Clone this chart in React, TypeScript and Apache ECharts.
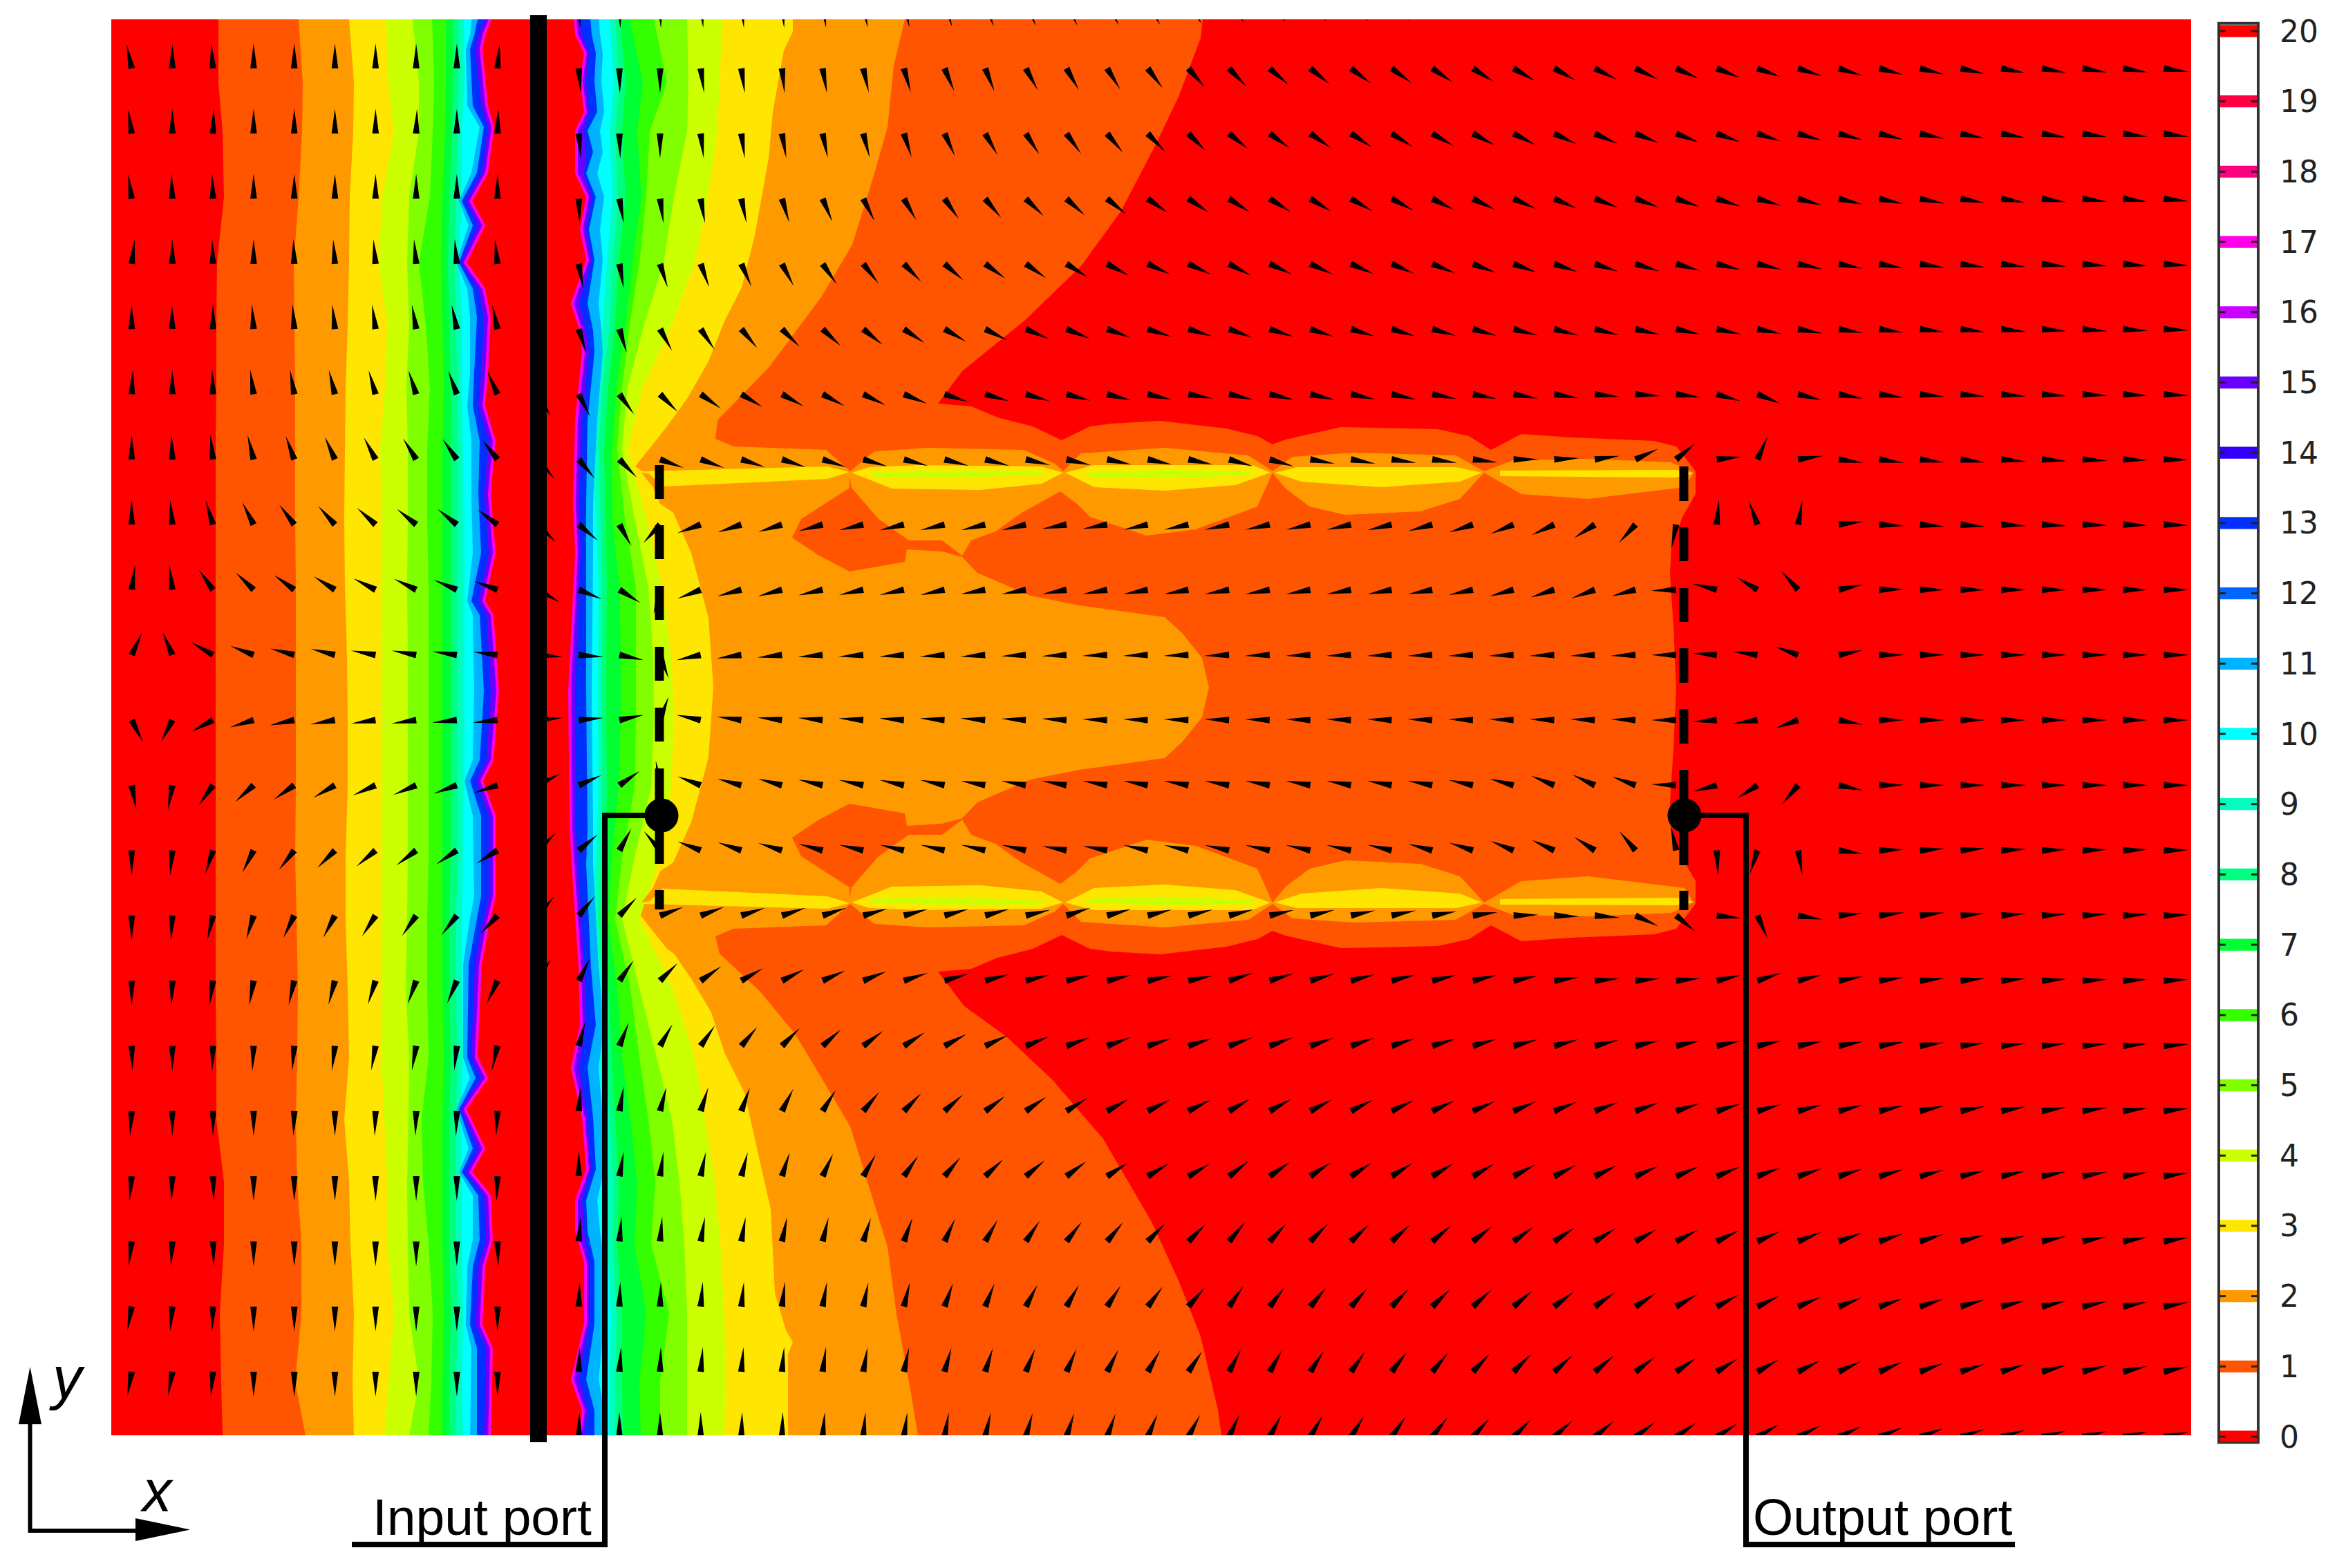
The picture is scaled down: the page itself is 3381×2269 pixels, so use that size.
import React, { useEffect, useRef } from "react";
import * as echarts from "echarts";

// ---------- level colours ----------
const LEVEL_COLORS = ["#ff0000","#ff5500","#ff9900","#ffe600","#ccff00","#80ff00","#33ff00","#00ff33","#00ff80","#00ffbf","#00ffff","#00b3ff","#0066ff","#0030ff","#3300ff","#6a00ff","#cc00ff","#ff00e6","#ff0080","#ff0040","#ff0000"];
const LEGEND_LEVELS = [0,1,2,3,4,5,6,7,8,9,10,11,12,13,14,15,16,17,18,19,20];

// ---------- contour sampling heights ----------
const YC = [28,120,190,285,380,470,560,650,750,850,950,1040,1140,1240,1330,1430,1530,1620,1710,1800,1900,2000,2077];
const YWL = [15,51,71,153,184,250,291,326,380,418,459,540,587,638,714,800,870,890,1000,1100,1130,1180,1297,1340,1396,1530,1560,1605,1662,1696,1730,1794,1833,1917,1951,2090];
const YWR = [15,50,77,117,162,189,220,251,285,332,376,439,479,510,608,728,800,1000,1200,1250,1400,1483,1545,1617,1692,1737,1782,1826,1916,1996,2041,2090];

// ---------- left of the wall: x where each level starts ----------
const L1 = [316,316,322,324,314,313,313,312,312,312,312,312,312,312,312,312,313,313,324,324,318,320,322];
const L2 = [432,438,437,432,425,426,427,427,427,428,428,428,428,427,429,431,430,428,430,436,436,427,442];
const L3 = [505,512,511,506,505,503,500,499,498,499,502,503,503,500,500,503,505,498,505,507,512,510,512];
const L4 = [558,562,570,553,548,560,557,550,552,552,553,553,553,553,553,553,552,556,560,560,570,562,556];
const L5 = [597,606,606,592,589,592,588,590,590,589,590,590,590,590,589,587,592,591,589,590,592,606,592];
const L6 = [625,628,626,622,606,616,622,618,618,620,620,620,620,620,618,618,620,610,612,620,626,624,620];
const L7 = [645,645,644,640,638,640,642,640,640,640,640,640,640,640,640,640,642,640,640,640,642,640,640];
const L8 = [655,655,654,650,648,650,652,652,652,652,652,652,652,652,650,650,652,650,650,650,652,650,650];
const L9 = [664,664,662,660,658,660,662,662,662,662,662,662,662,662,660,660,662,660,660,660,662,660,660];
const L10 = [671,672,668,668,664,668,668,670,672,672,672,672,672,670,668,668,670,666,668,668,670,668,670];
const L11 = [684,680,674,676,694,682,664,678,660,676,680,680,676,682,682,684,676,684,686,684,672,684,686,678,670,670,680,660,678,664,684,684,676,674,682,680];
const L13 = [694,686,680,684,700,690,668,684,664,684,690,686,684,694,692,696,682,694,700,694,680,696,696,688,678,676,688,664,684,668,692,694,684,680,690,690];
const L15 = [707,692,688,696,706,697,674,692,667,692,700,696,692,707,700,707,692,704,710,704,689,707,707,697,687,682,696,666,692,674,700,703,692,688,703,700];
const LEDGE = [714,700,696,704,713,704,681,700,673,700,708,704,700,715,708,715,700,712,720,712,697,715,715,705,695,689,704,673,700,681,708,711,700,696,711,708];

// ---------- right of the wall: x where each level ends ----------
const R4 = [1045,1041,1038,1024,1005,972,930,908,935,958,971,975,971,955,925,973,1005,1020,1034,1042,1048,1050,1048];
const R5 = [994,996,994,975,960,932,908,900,918,938,945,946,942,918,900,925,950,972,983,990,994,994,994];
const R6 = [946,965,940,935,925,911,900,893,904,920,920,920,918,900,890,912,925,938,948,942,968,955,955];
const R7 = [911,930,922,928,915,905,892,885,886,896,898,898,895,885,880,893,900,912,922,918,935,925,927];
const R8 = [897,905,900,905,895,890,880,874,876,878,877,877,878,876,872,880,885,890,896,893,900,900,901];
const R9 = [890,896,890,894,887,882,872,866,869,871,870,870,871,869,865,873,877,882,887,886,892,890,890];
const R10 = [882,888,882,886,878,872,864,858,862,866,865,865,866,862,857,864,868,874,878,878,884,882,881];
const R11 = [866,868,872,870,874,868,872,864,874,868,872,866,870,872,864,858,858,856,858,858,866,874,866,872,874,864,868,874,874,866,874,872];
const R13 = [853,856,862,860,864,850,858,848,862,852,860,850,858,860,850,848,848,848,850,848,855,862,850,858,862,848,850,860,860,848,860,860];
const R15 = [838,842,852,848,852,845,848,845,856,848,856,838,848,852,842,838,840,832,833,836,846,848,838,850,855,842,845,852,852,838,850,845];
const REDGE = [831,834,847,841,847,834,834,834,850,841,850,828,841,844,834,831,834,824,826,829,839,841,828,844,850,834,834,847,847,828,844,837];

// ---------- free-form contours (upper half of a top/bottom symmetric field) ----------
const MIRROR_SUM = 1990;
const LEV1_TOP = [[791,28],[1740,28],[1737,55],[1705,140],[1673,207],[1622,305],[1564,385],[1481,465],[1392,537]];
const LEV1_CHAIN = [[1357,584],[1405,588],[1443,604],[1494,617],[1536,637],[1577,617],[1608,613],[1678,609],[1774,620],[1819,631],[1841,643],[1860,636],[1940,618],[2080,621],[2125,631],[2157,651],[2201,628],[2272,633],[2393,638],[2425,646],[2453,682],[2453,715],[2434,748],[2418,794],[2416,830],[2421,906],[2425,995]];
const LEV1_BOTTOM = [[1395,1456],[1456,1500],[1523,1563],[1596,1648],[1666,1768],[1705,1853],[1737,1934],[1762,2040],[1767,2077],[791,2077]];
const LEV2_TOP = [[791,28],[1309,28],[1293,95],[1284,184],[1265,251],[1233,354],[1188,430],[1112,532],[1038,608]];
const LEV2_CHAIN = [[1035,635],[1061,646],[1195,651],[1230,682],[1265,653],[1341,648],[1481,651],[1526,671],[1538,682],[1564,656],[1685,648],[1806,659],[1841,682],[1870,661],[1959,655],[2106,659],[2147,682],[2189,666],[2297,664],[2418,669],[2450,684],[2437,705],[2297,722],[2201,715],[2147,684],[2112,722],[2055,740],[1946,745],[1895,733],[1860,707],[1841,684],[1819,733],[1730,766],[1659,775],[1577,748],[1558,729],[1534,711],[1478,742],[1440,769],[1405,782],[1392,804],[1363,782],[1315,782],[1271,751],[1232,706],[1229,690],[1229,706],[1159,751],[1146,778],[1185,804],[1229,827],[1309,813],[1312,795],[1363,798],[1392,806],[1414,829],[1491,862],[1561,876],[1685,893],[1710,916],[1739,952],[1749,995]];
const LEV2_BOTTOM = [[1041,1380],[1099,1434],[1150,1496],[1188,1559],[1230,1630],[1255,1710],[1284,1804],[1297,1902],[1316,2005],[1328,2077],[791,2077]];
const LEV3_TOP = [[791,28],[1147,28],[1147,46],[1134,73],[1118,162],[1112,229],[1092,340],[1073,416],[1048,465],[1025,523],[994,577]];
const LEV3_CHAIN = [[965,617],[919,675],[930,682],[1197,675],[1229,683],[1197,693],[961,704],[945,706],[955,729],[974,742],[1000,800],[1025,894],[1032,995]];
const LEV3_BOTTOM = [[975,1380],[1000,1416],[1029,1465],[1048,1523],[1077,1581],[1092,1648],[1115,1750],[1121,1871],[1137,1925],[1147,1942],[1140,1960],[1140,2077],[791,2077]];
const LENS3_A = [[1232,684],[1258,676],[1330,673],[1507,675],[1538,684],[1507,700],[1418,709],[1290,707],[1255,693]];
const LENS3_B = [[1541,684],[1583,673],[1812,673],[1838,684],[1787,702],[1685,710],[1583,705]];
const LENS3_C = [[1844,684],[1876,676],[2106,676],[2144,684],[2112,697],[1997,705],[1883,697]];
const LENS3_D = [[2170,681],[2425,680],[2450,685],[2425,691],[2170,689]];
const LENS4_A = [[1258,684],[1350,681],[1500,681],[1515,686],[1400,691],[1265,690]];
const LENS4_B = [[1570,683],[1690,680],[1810,682],[1812,688],[1690,692],[1580,690]];
const SLIVER2 = [[928,684],[950,712],[960,706],[940,686]];

// ---------- field wedges: base position grid ----------
const GRID_X = [190.5,249.3,308.1,366.9,425.7,484.5,543.3,602.1,660.9,719.7,778.5,837.3,896.1,954.9,1013.7,1072.5,1131.3,1190.1,1248.9,1307.7,1366.5,1425.3,1484.1,1542.9,1601.7,1660.5,1719.3,1778.1,1836.9,1895.7,1954.5,2013.3,2072.1,2130.9,2189.7,2248.5,2307.3,2366.1,2424.9,2483.7,2542.5,2601.3,2660.1,2718.9,2777.7,2836.5,2895.3,2954.1,3012.9,3071.7,3130.5];
const GRID_Y = [4.7,99,193.3,287.6,381.9,476.2,570.5,664.8,759.1,853.4,947.7,1042,1136.3,1230.6,1324.9,1419.2,1513.5,1607.8,1702.1,1796.4,1890.7,1985,2079.3];
// direction of each wedge, base to tip, in degrees (0 = right, 90 = up)
const ANGLE_ROWS = [
[90,90,90,90,90,90,90,90,90,90,-88,-87,-88,-88,-84,-84,-85,-82,-80,-77,-72,-70,-66,-64,-62,-60,-57,-52,-50,-48,-46,-44,-42,-40,-38,-36,-34,-32,-30,-28,-26,-24,-22,-20,-18,-16,-14,-13,-12,-11,-10],
[102,90,94,90,90,90,90,90,90,85,-85,-85,-89,-90,-82,-82,-84,-80,-77,-74,-67,-68,-61,-60,-58,-53,-49,-46,-41,-39,-37,-36,-34,-33,-30,-29,-27,-26,-24,-22,-20,-18,-17,-15,-14,-13,-11,-10,-9,-9,-8],
[98,90,88,90,90,90,90,88,90,88,-85,-85,-88,-90,-83,-82,-80,-78,-75,-72,-65,-60,-57,-54,-50,-46,-45,-39,-36,-35,-33,-32,-30,-28,-27,-25,-24,-22,-21,-20,-18,-16,-15,-14,-12,-11,-10,-9,-8,-7,-7],
[98,92,92,90,90,90,90,90,90,90,-82,-88,-80,-82,-80,-78,-73,-67,-63,-60,-55,-50,-44,-42,-39,-35,-34,-33,-32,-31,-30,-28,-27,-26,-24,-23,-21,-20,-19,-18,-16,-15,-13,-12,-11,-10,-9,-8,-7,-7,-6],
[83,90,92,90,92,94,95,95,95,96,-75,-80,-80,-72,-70,-66,-62,-55,-52,-46,-41,-36,-35,-32,-28,-25,-25,-28,-25,-25,-24,-23,-22,-21,-20,-19,-18,-17,-16,-14,-13,-12,-11,-10,-9,-8,-7,-6,-5,-5,-4],
[90,91,90,94,94,96,98,100,102,102,-70,-73,-73,-61,-56,-50,-45,-43,-39,-34,-30,-27,-23,-22,-20,-18,-17,-20,-18,-18,-17,-17,-16,-16,-15,-15,-14,-13,-12,-12,-11,-10,-9,-8,-7,-7,-6,-5,-5,-4,-3],
[87,90,92,98,100,104,106,108,110,114,-60,-63,-54,-45,-35,-31,-29,-28,-26,-22,-18,-16,-16,-15,-14,-13,-10,-13,-13,-13,-12,-12,-11,-11,-10,-9,-6,-4,-7,-16,-22,-14,-10,-8,-6,-5,-5,-4,-3,-3,-3],
[90,92,96,104,110,114,118,122,125,128,-50,-50,-46,-20,-20,-18,-18,-18,-16,-15,-15,-15,-13,-13,-12,-12,-12,-16,-16,-10,-10,-8,-8,-7,0,3,8,25,40,6,66,8,-8,-8,-7,-7,-5,-4,-3,-2,-1],
[90,95,107,117,127,132,138,141,141,143,-45,-40,-61,-132,-160,-162,-163,-165,-167,-167,-167,-167,-167,-170,-170,-168,-168,-168,-168,-168,-168,-167,-165,-162,-158,-155,-147,-132,-101,85,110,80,7,-3,-5,-5,-3,-3,-2,-2,-2],
[82,97,125,136,144,148,153,154,157,160,-30,-22,-32,-105,-159,-165,-165,-167,-168,-168,-168,-170,-170,-170,-170,-170,-170,-170,-170,-170,-170,-170,-170,-168,-165,-162,-160,-165,-178,166,149,132,12,1,0,0,0,0,0,0,0],
[65,113,150,159,165,166,170,170,172,173,-5,-5,-12,-70,-168,-172,-174,-175,-176,-176,-176,-176,-177,-177,-178,-178,-178,-178,-178,-178,-178,-178,-178,-178,-178,-178,-178,-178,180,176,172,160,11,0,0,0,0,0,0,0,0],
[-63,-117,-152,-163,-168,-170,-172,-172,-174,-174,5,5,12,70,168,172,174,175,176,176,176,176,177,177,178,178,178,178,178,178,178,178,178,178,178,178,178,178,180,-176,-172,-160,-11,0,0,0,0,0,0,0,0],
[-79,-100,-125,-138,-145,-150,-156,-157,-160,-162,28,24,35,100,159,165,165,167,168,168,168,170,170,170,170,170,170,170,170,170,170,170,170,168,165,158,155,160,178,-165,-147,-130,-12,1,0,0,0,0,0,0,0],
[-90,-95,-108,-117,-128,-135,-140,-143,-146,-148,45,40,61,130,159,161,163,165,167,167,167,167,167,170,170,168,168,168,168,168,168,167,165,162,158,155,147,130,102,-87,-108,-80,-8,2,4,5,3,2,2,2,1],
[-90,-93,-103,-107,-116,-118,-123,-125,-128,-133,50,50,46,20,20,18,18,18,16,15,15,15,13,18,15,14,14,14,13,13,12,12,10,8,2,-2,-5,-25,-40,-6,-66,-9,6,7,7,6,5,4,4,3,2],
[-90,-92,-98,-100,-103,-105,-108,-110,-113,-115,60,63,55,45,35,30,27,24,22,18,16,15,14,13,13,12,12,18,17,16,15,14,13,13,12,8,5,5,6,13,18,14,10,8,6,6,5,4,3,3,3],
[-88,-90,-92,-93,-95,-97,-100,-100,-96,-103,72,75,68,60,55,50,45,42,37,33,28,25,22,20,20,18,18,20,20,19,19,18,17,16,15,15,14,13,12,12,12,11,10,9,8,7,6,6,5,5,4],
[-94,-90,-90,-90,-92,-90,-92,-92,-92,-93,80,85,80,75,72,70,63,58,50,46,42,37,35,32,29,27,27,30,29,28,27,26,25,24,23,22,21,20,18,17,16,15,14,13,12,11,10,9,8,7,6],
[-95,-92,-88,-90,-90,-90,-90,-90,-90,-92,85,90,80,82,78,75,72,65,60,55,50,43,40,37,33,31,30,38,35,34,33,32,31,30,28,27,26,24,23,22,20,18,17,16,15,13,12,11,10,9,8],
[-97,-93,-88,-90,-90,-90,-90,-90,-90,-88,85,85,85,85,80,80,78,76,72,70,65,60,56,52,50,46,45,50,47,45,43,42,40,38,36,34,32,30,28,26,24,22,20,18,17,15,13,12,11,10,9],
[-100,-95,-92,-90,-90,-90,-90,-90,-90,-90,88,88,88,88,85,84,83,80,78,76,70,68,62,60,57,53,49,55,52,50,48,46,44,42,40,37,35,33,30,28,26,23,21,19,18,16,14,13,12,11,10],
[-100,-100,-95,-90,-90,-90,-90,-90,-90,-90,88,88,86,88,85,85,85,82,80,78,74,72,68,66,63,60,56,62,60,57,55,52,50,47,45,42,40,37,34,32,30,27,25,23,20,18,17,15,14,13,12],
[-90,-90,-90,-90,-90,-90,-90,-90,-90,-90,90,88,90,90,90,88,88,85,85,82,80,77,74,72,70,67,62,65,62,60,58,55,52,48,45,42,40,37,35,33,30,27,25,22,20,18,16,14,13,12,11],
];

// ---------- structure ----------
const WALL = [767,791,22,2087];
const PORT_X_IN = 954;
const PORT_X_OUT = 2436;
const DASHES_IN = [[673,722],[760,809],[848,897],[936,985],[1024,1073],[1112,1250],[1288,1316]];
const DASHES_OUT = [[675,725],[763,812],[851,900],[938,988],[1026,1076],[1114,1252],[1289,1317]];
const PORTS = [[957,1180],[2437,1180]];
const CALLOUTS = [[[957,1180],[875,1180],[875,2235],[509,2235]],[[2437,1180],[2526,1180],[2526,2235],[2915,2235]]];

const mirror = (pts: number[][]) => pts.map(([x, y]) => [x, MIRROR_SUM - y]).reverse();
const rightRing = (xs: number[], ys: number[]) => [[780, ys[0]], ...xs.map((x, i) => [x, ys[i]]), [780, ys[ys.length - 1]]];
const leftRing = (xs: number[], ys: number[]) => [...xs.map((x, i) => [x, ys[i]]), [780, ys[ys.length - 1]], [780, ys[0]]];

type Ring = { pts: number[][]; level: number; edge?: boolean };
const RINGS: Ring[] = [
  { pts: [...LEV1_TOP, ...LEV1_CHAIN, ...mirror(LEV1_CHAIN), ...LEV1_BOTTOM], level: 1 },
  { pts: [...LEV2_TOP, ...LEV2_CHAIN, ...mirror(LEV2_CHAIN), ...LEV2_BOTTOM], level: 2 },
  { pts: [...LEV3_TOP, ...LEV3_CHAIN, ...mirror(LEV3_CHAIN), ...LEV3_BOTTOM], level: 3 },
  ...[LENS3_A, LENS3_B, LENS3_C, LENS3_D].flatMap((p) => [{ pts: p, level: 3 }, { pts: mirror(p), level: 3 }]),
  ...[LENS4_A, LENS4_B].flatMap((p) => [{ pts: p, level: 4 }, { pts: mirror(p), level: 4 }]),
  { pts: rightRing(R4, YC), level: 4 },
  { pts: SLIVER2, level: 2 },
  { pts: mirror(SLIVER2), level: 2 },
  { pts: rightRing(R5, YC), level: 5 },
  { pts: rightRing(R6, YC), level: 6 },
  { pts: rightRing(R7, YC), level: 7 },
  { pts: rightRing(R8, YC), level: 8 },
  { pts: rightRing(R9, YC), level: 9 },
  { pts: rightRing(R10, YC), level: 10 },
  { pts: rightRing(R11, YWR), level: 11 },
  { pts: rightRing(R13, YWR), level: 13 },
  { pts: rightRing(R15, YWR), level: 15 },
  { pts: rightRing(REDGE, YWR), level: 20, edge: true },
  { pts: leftRing(L1, YC), level: 1 },
  { pts: leftRing(L2, YC), level: 2 },
  { pts: leftRing(L3, YC), level: 3 },
  { pts: leftRing(L4, YC), level: 4 },
  { pts: leftRing(L5, YC), level: 5 },
  { pts: leftRing(L6, YC), level: 6 },
  { pts: leftRing(L7, YC), level: 7 },
  { pts: leftRing(L8, YC), level: 8 },
  { pts: leftRing(L9, YC), level: 9 },
  { pts: leftRing(L10, YC), level: 10 },
  { pts: leftRing(L11, YWL), level: 11 },
  { pts: leftRing(L13, YWL), level: 13 },
  { pts: leftRing(L15, YWL), level: 15 },
  { pts: leftRing(LEDGE, YWL), level: 20, edge: true },
];

const ARROW_DATA: number[][] = [];
ANGLE_ROWS.forEach((row, r) => row.forEach((a, c) => ARROW_DATA.push([GRID_X[c], GRID_Y[r], a])));
const ARROW_LEN = 36;
const ARROW_BASE = 4.8;

export default function App() {
  const ref = useRef<HTMLDivElement>(null);
  useEffect(() => {
    const chart = echarts.init(ref.current!, undefined, { renderer: "svg" });
    const sans = "'Liberation Sans', Arial, sans-serif";
    const label = (text: string, x: number, y: number, size: number, italic = false) => ({
      type: "text", z: 50,
      style: { text, x, y, fill: "#000", font: `${italic ? "italic " : ""}${size}px ${sans}`, verticalAlign: "bottom" },
    });
    const option: any = {
      animation: false,
      backgroundColor: "#fff",
      grid: [
        { left: 161, top: 28, width: 3009, height: 2049, backgroundColor: "#ff0000", show: true, borderWidth: 0 },
        { left: 3210, top: 45, width: 57, height: 2034, show: false },
      ],
      xAxis: [
        { type: "value", gridIndex: 0, min: 161, max: 3170, show: false },
        { type: "value", gridIndex: 1, min: 0, max: 1, show: false },
      ],
      yAxis: [
        { type: "value", gridIndex: 0, min: 28, max: 2077, inverse: true, show: false },
        {
          type: "value", gridIndex: 1, min: 0, max: 20, interval: 1, position: "right", z: 10,
          axisLine: { show: false }, axisTick: { show: false }, splitLine: { show: false },
          axisLabel: { fontFamily: "'DejaVu Sans'", fontSize: 44, color: "#222", margin: 31 },
        },
      ],
      series: [
        {
          type: "custom", xAxisIndex: 0, yAxisIndex: 0, clip: true, silent: true, z: 1, encode: { x: 0, y: 1 },
          data: RINGS.map((_, i) => [161 + i, 28]),
          renderItem: (_p: any, api: any) => {
            const ring = RINGS[api.value(0) - 161];
            return {
              type: "polygon",
              shape: { points: ring.pts.map((p) => api.coord(p)) },
              style: ring.edge
                ? { fill: LEVEL_COLORS[ring.level], stroke: "#ff00e6", lineWidth: 4 }
                : { fill: LEVEL_COLORS[ring.level] },
            };
          },
        },
        {
          type: "custom", xAxisIndex: 0, yAxisIndex: 0, clip: true, silent: true, z: 2, encode: { x: 0, y: 1 },
          data: ARROW_DATA,
          renderItem: (_p: any, api: any) => {
            const [bx, by] = api.coord([api.value(0), api.value(1)]);
            const t = (api.value(2) * Math.PI) / 180;
            const ux = Math.cos(t), uy = -Math.sin(t);
            return {
              type: "polygon",
              shape: {
                points: [
                  [bx + ux * ARROW_LEN, by + uy * ARROW_LEN],
                  [bx - uy * ARROW_BASE, by + ux * ARROW_BASE],
                  [bx + uy * ARROW_BASE, by - ux * ARROW_BASE],
                ],
              },
              style: { fill: "#000" },
            };
          },
        },
        {
          type: "custom", xAxisIndex: 0, yAxisIndex: 0, clip: false, silent: true, z: 3, encode: { x: 0, y: 1 },
          data: [[0, 0]],
          renderItem: (_p: any, api: any) => {
            const bar = (x0: number, x1: number, y0: number, y1: number) => {
              const a = api.coord([x0, y0]), b = api.coord([x1, y1]);
              return { type: "rect", shape: { x: a[0], y: a[1], width: b[0] - a[0], height: b[1] - a[1] }, style: { fill: "#000" } };
            };
            return {
              type: "group",
              children: [
                bar(WALL[0], WALL[1], WALL[2], WALL[3]),
                ...DASHES_IN.map(([a, b]) => bar(PORT_X_IN - 6.5, PORT_X_IN + 6.5, a, b)),
                ...DASHES_OUT.map(([a, b]) => bar(PORT_X_OUT - 6.5, PORT_X_OUT + 6.5, a, b)),
                ...CALLOUTS.map((c) => ({
                  type: "polyline",
                  shape: { points: c.map((p) => api.coord(p)) },
                  style: { fill: "none", stroke: "#000", lineWidth: 8 },
                })),
                ...PORTS.map((p) => {
                  const q = api.coord(p);
                  return { type: "circle", shape: { cx: q[0], cy: q[1], r: 24.5 }, style: { fill: "#000" } };
                }),
              ],
            };
          },
        },
        {
          type: "custom", xAxisIndex: 1, yAxisIndex: 1, clip: false, silent: true, z: 4, encode: { x: 0, y: 1 },
          data: [[0, 0]],
          renderItem: (_p: any, api: any) => {
            const a = api.coord([0, 20.11]), b = api.coord([1, -0.08]);
            return {
              type: "rect",
              shape: { x: a[0], y: a[1], width: b[0] - a[0], height: b[1] - a[1] },
              style: { fill: "#fff", stroke: "#333", lineWidth: 4 },
            };
          },
        },
        {
          type: "custom", xAxisIndex: 1, yAxisIndex: 1, clip: false, silent: true, z: 5, encode: { x: 0, y: 1 },
          data: LEGEND_LEVELS.map((v) => [0, v]),
          renderItem: (_p: any, api: any) => {
            const v = api.value(1);
            const a = api.coord([0, Math.min(v + 0.085, 20.09)]), b = api.coord([1, Math.max(v - 0.085, -0.07)]);
            const c = api.coord([0, v]), d = api.coord([1, v]);
            return {
              type: "group",
              children: [
                { type: "rect", shape: { x: a[0] + 2, y: a[1], width: b[0] - a[0] - 4, height: b[1] - a[1] }, style: { fill: LEVEL_COLORS[v] } },
                { type: "line", shape: { x1: c[0], y1: c[1], x2: c[0] + 10, y2: c[1] }, style: { stroke: "#222", lineWidth: 3 } },
                { type: "line", shape: { x1: d[0] - 10, y1: d[1], x2: d[0], y2: d[1] }, style: { stroke: "#222", lineWidth: 3 } },
              ],
            };
          },
        },
      ],
      graphic: [
        { type: "line", z: 50, shape: { x1: 43.5, y1: 2218, x2: 43.5, y2: 2050 }, style: { stroke: "#000", lineWidth: 6 } },
        { type: "line", z: 50, shape: { x1: 41, y1: 2215, x2: 205, y2: 2215 }, style: { stroke: "#000", lineWidth: 6 } },
        { type: "polygon", z: 50, shape: { points: [[43.5, 1978], [27, 2061], [60, 2061]] }, style: { fill: "#000" } },
        { type: "polygon", z: 50, shape: { points: [[275, 2213.5], [196, 2197], [196, 2230]] }, style: { fill: "#000" } },
        label("y", 76, 2036, 85, true),
        label("x", 206, 2200, 85, true),
        label("Input port", 539, 2232, 75),
        label("Output port", 2536, 2232, 75),
      ],
    };
    chart.setOption(option);
    return () => chart.dispose();
  }, []);
  return <div ref={ref} style={{ position: "absolute", left: 0, top: 0, width: 3381, height: 2269 }} />;
}
